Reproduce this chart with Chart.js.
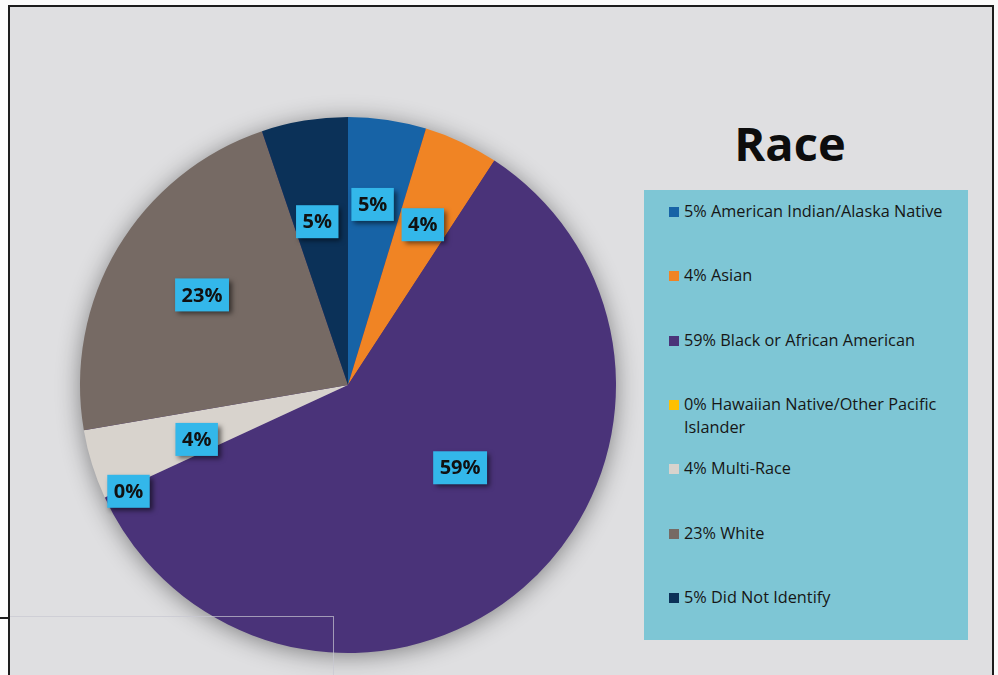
<!DOCTYPE html>
<html>
<head>
<meta charset="utf-8">
<script src="https://cdn.jsdelivr.net/npm/chart.js@4/dist/chart.umd.min.js"></script>
<style>
  html, body { margin:0; padding:0; }
  body { width:998px; height:675px; overflow:hidden; background:#fbfbfb; position:relative; font-family:'Open Sans', sans-serif; }
  #frame { position:absolute; left:8px; top:5px; width:982px; height:700px; background:#dfdfe1;
           border-top:2px solid #1c1c1c; border-left:2px solid #1c1c1c; border-right:2px solid #1c1c1c; }
  #pieWrap { position:absolute; left:40px; top:77px; width:616px; height:616px; }
  #title { position:absolute; left:690px; width:200px; top:113px; text-align:center; font-size:47px; font-weight:700; color:#0d0d0d; line-height:60px; }
  #legend { position:absolute; left:644px; top:190px; width:324px; height:450px; background:#7ec6d5; }
  .item { position:absolute; left:25px; display:flex; align-items:flex-start; }
  .sw { width:10px; height:10px; margin-top:7px; margin-right:5px; flex:none; }
  .txt { width:272px; font-size:16.3px; line-height:23px; color:#161616; }
  .hl { position:absolute; left:10px; top:616px; width:323px; height:1px; background:rgba(200,200,210,0.7); }
  .vl { position:absolute; left:333px; top:616px; width:1px; height:60px; background:rgba(200,200,210,0.7); }
  .bl { position:absolute; left:0; top:617px; width:9px; height:2px; background:#1c1c1c; }
</style>
</head>
<body>
<div id="frame"></div>
<div id="pieWrap"><canvas id="pie"></canvas></div>
<div id="title">Race</div>
<div id="legend"></div>
<div class="hl"></div><div class="vl"></div><div class="bl"></div>
<script>
// DATA
const categories  = ['American Indian/Alaska Native', 'Asian', 'Black or African American',
                     'Hawaiian Native/Other Pacific Islander', 'Multi-Race', 'White', 'Did Not Identify'];
const shares      = [4.7, 4.5, 58.9, 0, 4.2, 22.5, 5.2];
const pctLabels   = ['5%', '4%', '59%', '0%', '4%', '23%', '5%'];
const sliceColors = ['#1763a6', '#f08424', '#4a3379', '#ffc000', '#d8d3cd', '#766a64', '#0b3158'];

// legend (html), built from the arrays
const leg = document.getElementById('legend');
categories.forEach((c, i) => {
  const it = document.createElement('div');
  it.className = 'item';
  it.style.top = (10 + i * 64.3) + 'px';
  it.innerHTML = `<span class="sw" style="background:${sliceColors[i]}"></span><span class="txt">${pctLabels[i]} ${c}</span>`;
  leg.appendChild(it);
});

// soft shadow behind the whole pie
const pieShadow = {
  id: 'pieShadow',
  beforeDatasetsDraw(chart) {
    const arc = chart.getDatasetMeta(0).data[0];
    if (!arc) return;
    const { x, y, outerRadius } = arc.getProps(['x', 'y', 'outerRadius'], true);
    const ctx = chart.ctx;
    ctx.save();
    ctx.shadowColor = 'rgba(0,0,0,0.45)';
    ctx.shadowBlur = 24;
    ctx.shadowOffsetY = 3;
    ctx.beginPath();
    ctx.arc(x, y, outerRadius - 1, 0, Math.PI * 2);
    ctx.fillStyle = '#4a3379';
    ctx.fill();
    ctx.restore();
  }
};

// boxed percentage labels
const boxLabels = {
  id: 'boxLabels',
  afterDatasetsDraw(chart, args, opts) {
    const ctx = chart.ctx;
    chart.getDatasetMeta(0).data.forEach((arc, i) => {
      const p = arc.getProps(['x', 'y', 'startAngle', 'endAngle', 'outerRadius'], true);
      const a = (p.startAngle + p.endAngle) / 2 + opts.shift[i] * Math.PI / 180;
      const r = p.outerRadius * opts.frac[i];
      const cx = p.x + Math.cos(a) * r, cy = p.y + Math.sin(a) * r;
      ctx.save();
      ctx.font = '700 20px "Open Sans"';
      const w = ctx.measureText(pctLabels[i]).width + 13, h = 33;
      ctx.shadowColor = 'rgba(0,0,0,0.55)';
      ctx.shadowBlur = 5;
      ctx.shadowOffsetX = 3;
      ctx.shadowOffsetY = 3;
      ctx.fillStyle = '#33b7ea';
      ctx.fillRect(cx - w / 2, cy - h / 2, w, h);
      ctx.shadowColor = 'transparent';
      ctx.fillStyle = '#111';
      ctx.textAlign = 'center';
      ctx.textBaseline = 'middle';
      ctx.fillText(pctLabels[i], cx, cy + 1);
      ctx.restore();
    });
  }
};

new Chart(document.getElementById('pie'), {
  type: 'pie',
  data: {
    labels: categories,
    datasets: [{ data: shares, backgroundColor: sliceColors, borderWidth: 0 }]
  },
  options: {
    responsive: true,
    maintainAspectRatio: false,
    animation: false,
    layout: { padding: 40 },
    plugins: {
      legend: { display: false },
      tooltip: { enabled: false },
      boxLabels: {
        frac:  [0.68, 0.66, 0.52, 0.91, 0.60, 0.64, 0.62],
        shift: [-0.7, 0, -12.7, -1.0, -2.5, 0.9, -1.3]
      }
    }
  },
  plugins: [pieShadow, boxLabels]
});
</script>
</body>
</html>
